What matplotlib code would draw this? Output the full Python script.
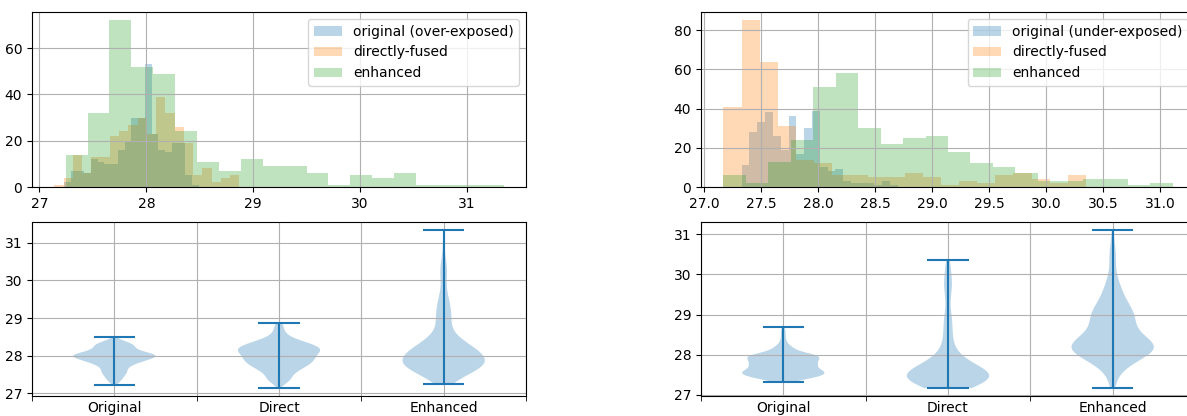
import numpy as np
import matplotlib
matplotlib.use("Agg")
import matplotlib.pyplot as plt
from matplotlib.mlab import GaussianKDE

# ---------------- data ----------------
# Each series: value range (min, max) and counts of a 20-bin histogram.

# Over-exposed case (left column)
over_orig_range = (27.23, 28.49)
over_orig_counts = [2, 7, 7, 6, 12, 11, 10, 10, 16, 20, 30, 30, 53, 23, 16, 15, 19, 19, 5, 1]
over_direct_range = (27.14, 28.87)
over_direct_counts = [1, 4, 14, 6, 13, 13, 22, 24, 27, 30, 23, 39, 32, 26, 19, 5, 8, 2, 4, 5]
over_enh_range = (27.245, 31.342)
over_enh_counts = [14, 32, 72, 52, 49, 24, 11, 7, 12, 9, 9, 6, 1, 5, 4, 6, 1, 1, 1, 1]

# Under-exposed case (right column)
under_orig_range = (27.33, 28.70)
under_orig_counts = [11, 28, 33, 38, 26, 19, 36, 17, 30, 39, 10, 8, 9, 3, 2, 2, 2, 1, 3, 1]
under_direct_range = (27.17, 30.35)
under_direct_counts = [41, 85, 64, 31, 14, 12, 6, 6, 5, 5, 7, 5, 1, 3, 2, 6, 7, 4, 2, 6]
under_enh_range = (27.17, 31.11)
under_enh_counts = [6, 2, 13, 24, 51, 58, 30, 22, 25, 26, 18, 12, 10, 7, 3, 3, 4, 4, 1, 2]

hist_labels_over = ["original (over-exposed)", "directly-fused", "enhanced"]
hist_labels_under = ["original (under-exposed)", "directly-fused", "enhanced"]
violin_labels = ["Original", "Direct", "Enhanced"]

over_xticks = [27, 28, 29, 30, 31]
under_xticks = [27.0, 27.5, 28.0, 28.5, 29.0, 29.5, 30.0, 30.5, 31.0]

# ---------------- helpers ----------------
def bins_of(rng, counts):
    edges = np.linspace(rng[0], rng[1], len(counts) + 1)
    centers = 0.5 * (edges[:-1] + edges[1:])
    return edges, centers


def samples_of(rng, counts):
    _, centers = bins_of(rng, counts)
    return np.repeat(centers, counts)


def vstats(rng, counts):
    s = samples_of(rng, counts)
    kde = GaussianKDE(s, "scott")
    coords = np.linspace(rng[0], rng[1], 100)
    return dict(coords=coords, vals=kde.evaluate(coords), mean=s.mean(),
                median=np.median(s), min=rng[0], max=rng[1])


def draw_hist(ax, series, labels, xticks):
    for (rng, counts), lab in zip(series, labels):
        edges, centers = bins_of(rng, counts)
        ax.hist(centers, bins=edges, weights=counts, alpha=0.3, label=lab)
    ax.set_xticks(xticks)
    ax.grid(True)
    ax.legend(loc="upper right")


def draw_violin(ax, series):
    stats = [vstats(rng, counts) for rng, counts in series]
    ax.violin(stats, positions=[1, 2, 3], widths=0.5, showextrema=True)
    ax.set_xlim(0.5, 3.5)
    ax.set_xticks([1, 2, 3])
    ax.set_xticklabels(violin_labels)
    ax.set_xticks([0.5, 1.5, 2.5, 3.5], minor=True)
    ax.tick_params(axis="x", which="major", length=0)
    ax.tick_params(axis="x", which="minor", length=3.5)
    ax.grid(True, which="both")


# ---------------- figure ----------------
W, H = 1187, 416
fig = plt.figure(figsize=(W / 100, H / 100), dpi=100)

def pos(left, right, top, bottom):
    return [left / W, 1 - bottom / H, (right - left) / W, (bottom - top) / H]

ax_tl = fig.add_axes(pos(32, 526, 12, 187))
ax_tr = fig.add_axes(pos(701, 1195, 12, 187))
ax_bl = fig.add_axes(pos(32, 526, 222, 396))
ax_br = fig.add_axes(pos(701, 1195, 222, 396))

over = [(over_orig_range, over_orig_counts),
        (over_direct_range, over_direct_counts),
        (over_enh_range, over_enh_counts)]
under = [(under_orig_range, under_orig_counts),
         (under_direct_range, under_direct_counts),
         (under_enh_range, under_enh_counts)]

draw_hist(ax_tl, over, hist_labels_over, over_xticks)
draw_hist(ax_tr, under, hist_labels_under, under_xticks)
draw_violin(ax_bl, over)
draw_violin(ax_br, under)

fig.savefig("out.png", dpi=100)
